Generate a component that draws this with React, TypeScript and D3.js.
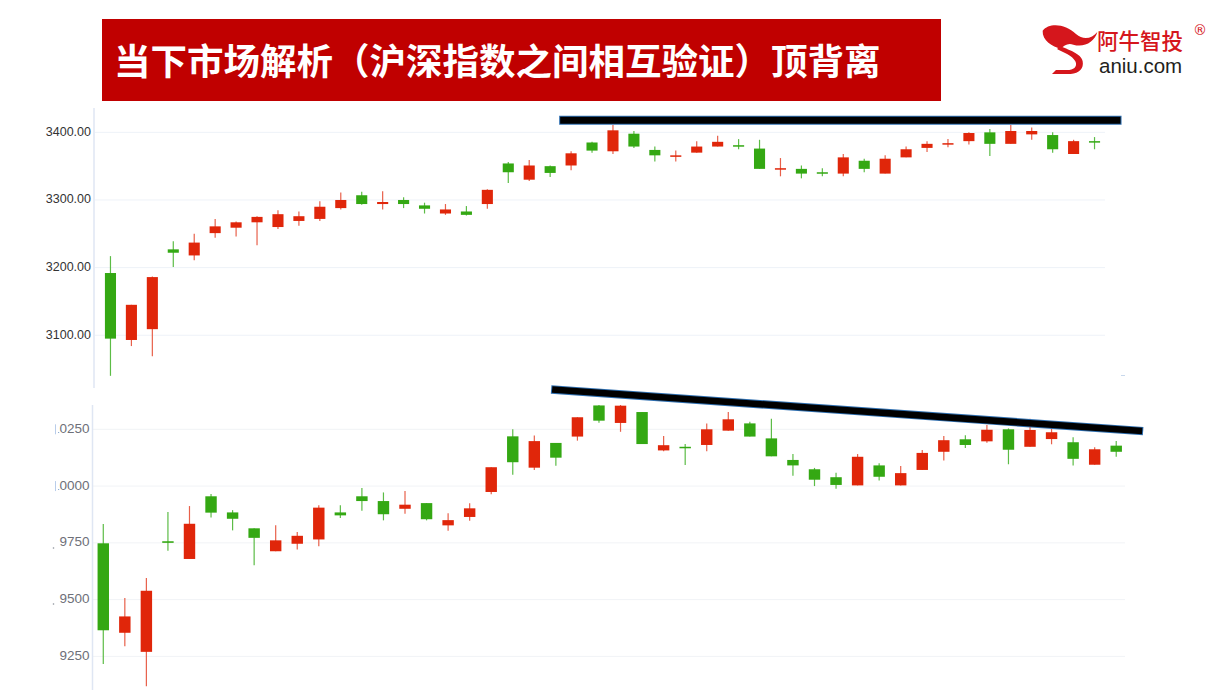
import React from "react";
import * as d3 from "d3";

// ---------- DATA ----------
// 沪指 (Shanghai) daily candles
const shOpen = [3192,3093,3109,3227,3218,3251,3259,3267,3260,3269,3272,3288,3307,3294,3300,3292,3280,3283,3294,3354,3330,3350,3351,3385,3372,3398,3374,3364,3370,3379,3381,3376,3345,3346,3341,3339,3358,3339,3363,3377,3382,3387,3400,3383,3397,3396,3368,3387];
const shClose = [3095,3145,3186,3222,3237,3261,3267,3275,3279,3276,3290,3300,3294,3297,3294,3287,3286,3278,3315,3341,3351,3340,3369,3373,3403,3379,3366,3366,3379,3386,3379,3346,3347,3339,3339,3363,3346,3361,3375,3383,3384,3399,3383,3402,3402,3375,3387,3386];
const shHigh = [3217,3145,3187,3239,3250,3272,3268,3276,3285,3283,3298,3311,3312,3313,3304,3296,3294,3291,3316,3356,3359,3351,3372,3386,3411,3402,3379,3373,3387,3395,3390,3389,3362,3351,3347,3368,3361,3366,3379,3387,3390,3400,3405,3411,3407,3400,3389,3393];
const shLow = [3040,3084,3069,3201,3211,3244,3246,3233,3257,3262,3269,3286,3293,3286,3288,3280,3278,3277,3287,3325,3328,3334,3344,3370,3368,3377,3357,3357,3370,3379,3375,3346,3335,3332,3335,3335,3341,3339,3363,3371,3378,3382,3365,3383,3389,3370,3368,3375];
const shTicks = [3100, 3200, 3300, 3400];

// 深成指 (Shenzhen) daily candles
const szOpen = [9748,9354,9270,9757,9679,9955,9884,9814,9713,9746,9765,9884,9955,9934,9900,9925,9827,9864,9974,10219,10081,10190,10218,10355,10278,10326,10157,10173,10181,10244,10276,10210,10115,10074,10039,10003,10091,10003,10071,10151,10206,10197,10250,10173,10207,10193,10094,10178];
const szClose = [9365,9426,9539,9750,9834,9883,9856,9772,9761,9781,9905,9871,9934,9876,9918,9854,9850,9902,10083,10105,10198,10125,10303,10288,10354,10185,10180,10169,10250,10294,10218,10131,10091,10028,10005,10129,10041,10057,10146,10202,10181,10248,10160,10247,10237,10120,10162,10151];
const szHigh = [9833,9507,9595,9886,9912,9965,9894,9814,9828,9798,9915,9915,9991,9972,9978,9925,9880,9924,10083,10250,10223,10190,10303,10357,10357,10326,10220,10185,10275,10326,10283,10297,10141,10080,10059,10141,10100,10088,10159,10221,10224,10269,10254,10297,10254,10215,10171,10198];
const szLow = [9217,9295,9119,9715,9679,9862,9805,9651,9713,9721,9735,9859,9891,9849,9878,9849,9803,9847,9964,10050,10071,10090,10200,10279,10239,10185,10153,10093,10153,10244,10218,10131,10046,10000,9988,10003,10024,10003,10071,10113,10168,10191,10096,10173,10184,10091,10094,10129];
const szTicks = [9250, 9500, 9750, 10000, 10250];

// annotation lines: [index position, value]
const shTopLine = [[21.43, 3418], [48.29, 3418]];
const szTopLine = [[20.78, 10425], [48.25, 10242]];

const title = "当下市场解析（沪深指数之间相互验证）顶背离";
const logoCn = "阿牛智投";
const logoEn = "aniu.com";

// ---------- STYLE ----------
const RED = "#e0260a";
const GREEN = "#34a813";
const RED_WICK = "#e8604a";
const GREEN_WICK = "#5cbc46";

type Candle = { o: number; c: number; h: number; l: number };

function makeCandles(o: number[], c: number[], h: number[], l: number[]): Candle[] {
  return o.map((v, i) => ({ o: v, c: c[i], h: h[i], l: l[i] }));
}

function Candles({ data, x, y }: { data: Candle[]; x: d3.ScaleBand<number>; y: d3.ScaleLinear<number, number> }) {
  const bw = x.step() * 0.53;
  return (
    <g>
      {data.map((d, i) => {
        const cx = (x(i) as number) + x.bandwidth() / 2;
        const up = d.c >= d.o;
        const col = up ? RED : GREEN;
        const wcol = up ? RED_WICK : GREEN_WICK;
        const top = y(Math.max(d.o, d.c));
        const bot = y(Math.min(d.o, d.c));
        return (
          <g key={i}>
            <line x1={cx} x2={cx} y1={y(d.h)} y2={y(d.l)} stroke={wcol} strokeWidth={1.2} />
            <rect x={cx - bw / 2} y={top} width={bw} height={Math.max(1.5, bot - top)} fill={col} />
          </g>
        );
      })}
    </g>
  );
}

export default function App() {
  const W = 1221, H = 690;

  // top chart
  const shData = makeCandles(shOpen, shClose, shHigh, shLow);
  const xTop = d3.scaleBand<number>().domain(d3.range(shData.length)).range([100, 1105]).padding(0);
  const yTop = d3.scaleLinear().domain([3022, 3436]).range([388, 108]);
  const posTop = (p: number) => (xTop.range()[0] as number) + (p + 0.5) * xTop.step();

  // bottom chart
  const szData = makeCandles(szOpen, szClose, szHigh, szLow);
  const xBot = d3.scaleBand<number>().domain(d3.range(szData.length)).range([92.5, 1127]).padding(0);
  const yBot = d3.scaleLinear().domain([9102, 10357]).range([690, 405]);
  const posBot = (p: number) => (xBot.range()[0] as number) + (p + 0.5) * xBot.step();

  const topLine = shTopLine.map(([p, v]) => [posTop(p), yTop(v)]);
  const botLine = szTopLine.map(([p, v]) => [posBot(p), yBot(v)]);

  return (
    <svg width={W} height={H} style={{ position: "absolute", left: 0, top: 0, background: "#fff" }}
      xmlns="http://www.w3.org/2000/svg">
      <defs>
        <clipPath id="botLabelClip">
          <rect x={58.3} y={400} width={60} height={290} />
        </clipPath>
      </defs>
      <rect x={0} y={0} width={W} height={H} fill="#fff" />

      {/* Title banner */}
      <rect x={102} y={19} width={839} height={82} fill="#c00000" />
      <text x={114} y={65} fill="#fff" fontFamily="'Noto Sans CJK SC', sans-serif" fontWeight={700}
        fontSize={36.5} dominantBaseline="middle">{title}</text>

      {/* Logo */}
      <g transform="translate(1000,10) scale(0.3333)" fill="#d5161c">
        <path d="M128,62 C146,38 196,40 228,72 C250,92 276,86 292,66 C284,96 252,114 220,104 C202,98 192,108 182,116 C158,110 126,92 128,62 Z" />
        <path d="M176,106 C204,120 244,130 248,154 C252,176 238,190 212,192 L156,192 L168,180 L208,180 C226,178 232,166 226,154 C216,136 192,128 172,118 Z" />
      </g>
      <text x={1097} y={48.5} fill="#d5161c" fontFamily="'Noto Sans CJK SC', sans-serif" fontWeight={500}
        fontSize={21.5}>{logoCn}</text>
      <text x={1099} y={72.5} fill="#231f20" fontFamily="'Liberation Sans', Arial, sans-serif" fontSize={20.5}>{logoEn}</text>
      <text x={1193} y={35} fill="#d5161c" fontFamily="'DejaVu Sans', sans-serif" fontSize={14}>®</text>

      {/* Top chart grid + axis */}
      {shTicks.map((t) => (
        <g key={t}>
          <line x1={95} x2={1105} y1={yTop(t)} y2={yTop(t)} stroke="#eef2f8" strokeWidth={1} />
          <text x={91} y={yTop(t)} textAnchor="end" dominantBaseline="middle" fill="#333"
            fontFamily="'Liberation Sans', Arial, sans-serif" fontSize={12.5}>{d3.format(".2f")(t)}</text>
        </g>
      ))}
      <line x1={94} x2={94} y1={yTop.range()[1]} y2={yTop.range()[0]} stroke="#dfe6f3" strokeWidth={1.5} />
      <Candles data={shData} x={xTop} y={yTop} />
      <line x1={1121} x2={1125} y1={375.5} y2={375.5} stroke="#c8d8ec" strokeWidth={1} />

      {/* Bottom chart grid + axis */}
      {szTicks.map((t) => (
        <g key={t}>
          <line x1={93} x2={1125} y1={yBot(t)} y2={yBot(t)} stroke="#f1f3f6" strokeWidth={1} />
          <text x={89.5} y={yBot(t)} textAnchor="end" dominantBaseline="middle" fill="#6e7079"
            clipPath="url(#botLabelClip)"
            fontFamily="'Liberation Sans', Arial, sans-serif" fontSize={13.5}>{String(t)}</text>
          {t >= 10000 ? (
            <line x1={55.5} x2={55.5} y1={yBot(t) - 5} y2={yBot(t) + 5} stroke="#b9cdea" strokeWidth={1} />
          ) : null}
        </g>
      ))}
      <circle cx={53.5} cy={548} r={0.8} fill="#8a8f99" />
      <circle cx={53.5} cy={604} r={0.8} fill="#8a8f99" />
      <line x1={92.5} x2={92.5} y1={405} y2={690} stroke="#dfe6f3" strokeWidth={1.5} />
      <Candles data={szData} x={xBot} y={yBot} />

      {/* Annotation: top horizontal bar */}
      <line x1={topLine[0][0]} x2={topLine[1][0]} y1={topLine[0][1]} y2={topLine[1][1]}
        stroke="#2f6fb0" strokeWidth={9} />
      <line x1={topLine[0][0] + 1} x2={topLine[1][0] - 1} y1={topLine[0][1]} y2={topLine[1][1]}
        stroke="#000" strokeWidth={7} />

      {/* Annotation: bottom descending line */}
      <line x1={botLine[0][0]} x2={botLine[1][0]} y1={botLine[0][1]} y2={botLine[1][1]}
        stroke="#2f6fb0" strokeWidth={8.5} />
      <line x1={botLine[0][0] + 1} x2={botLine[1][0] - 1} y1={botLine[0][1]} y2={botLine[1][1]}
        stroke="#000" strokeWidth={6.5} />
    </svg>
  );
}
